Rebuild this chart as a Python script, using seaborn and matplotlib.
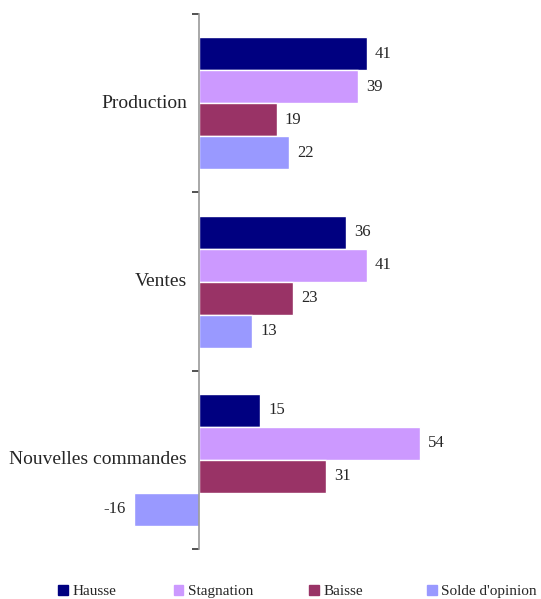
import matplotlib
matplotlib.use("Agg")
import pandas as pd
import seaborn as sns
import matplotlib.pyplot as plt
from matplotlib.patches import Patch

categories = ["Production", "Ventes", "Nouvelles commandes"]
series = ["Hausse", "Stagnation", "Baisse", "Solde d'opinion"]
hausse = [41, 36, 15]
stagnation = [39, 41, 54]
baisse = [19, 23, 31]
solde = [22, 13, -16]

colors = ["#000080", "#CC99FF", "#993366", "#9999FF"]

rows = []
for name, vals in zip(series, [hausse, stagnation, baisse, solde]):
    for cat, v in zip(categories, vals):
        rows.append({"categorie": cat, "serie": name, "valeur": v})
df = pd.DataFrame(rows)

sns.set_style("white")
plt.rcParams["font.family"] = ["Liberation Serif", "DejaVu Serif"]

fig = plt.figure(figsize=(5.41, 5.99), dpi=100)
ax = fig.add_axes([0.222, 0.0835, 0.647, 0.893])

sns.barplot(data=df, x="valeur", y="categorie", hue="serie", order=categories,
            hue_order=series, palette=colors, orient="h", width=0.74,
            saturation=1, legend=False, ax=ax)

ax.set_xlim(-19.4, 66.4)
ax.set_ylim(2.5, -0.5)
ax.set_xlabel("")
ax.set_ylabel("")
ax.set_xticks([])
for s in ["top", "right", "bottom"]:
    ax.spines[s].set_visible(False)
ax.spines["left"].set_position(("data", 0))
ax.spines["left"].set_color("#999999")
ax.spines["left"].set_linewidth(1.2)

# tick marks at the category boundaries, labels drawn as text
ax.set_yticks([-0.5, 0.5, 1.5, 2.5])
ax.set_yticklabels([])
ax.tick_params(axis="y", left=True, length=5, color="#333333", width=1.2)
for i, cat in enumerate(categories):
    ax.text(-3.0, i, cat, ha="right", va="center", fontsize=14)

for cont in ax.containers:
    for bar in cont:
        w = bar.get_width()
        yc = bar.get_y() + bar.get_height() / 2
        if w >= 0:
            ax.text(w + 2, yc, f"{w:.0f}", ha="left", va="center", fontsize=12)
        else:
            ax.text(w - 2, yc, f"{w:.0f}", ha="right", va="center", fontsize=12)

# legend entries placed one by one, like the spreadsheet layout
legend_x = [0.108, 0.322, 0.572, 0.790]
for name, c, x in zip(series, colors, legend_x):
    fig.legend([Patch(facecolor=c, edgecolor=c)], [name], loc="center left",
               bbox_to_anchor=(x, 0.012), frameon=False, fontsize=11,
               handlelength=0.6, handleheight=0.6, handletextpad=0.3,
               borderpad=0, borderaxespad=0)

fig.savefig("out.png", dpi=100)
